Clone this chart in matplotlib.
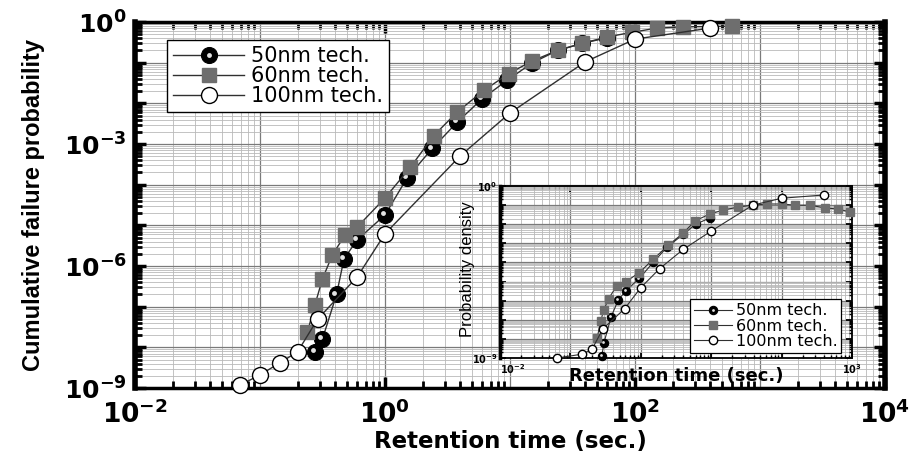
import numpy as np
import matplotlib
matplotlib.use("Agg")
import matplotlib.pyplot as plt
from matplotlib.ticker import LogLocator, FuncFormatter, NullFormatter
from matplotlib.transforms import offset_copy

plt.rcParams['font.family'] = ['DejaVu Sans']
plt.rcParams['mathtext.fontset'] = 'dejavusans'
plt.rcParams['mathtext.default'] = 'bf'

# ---- cumulative failure probability (main panel) ----
t50 = [0.275, 0.316, 0.41, 0.47, 0.60, 1.0, 1.5, 2.4, 3.8, 6.0, 9.5, 15, 24, 38, 60]
p50 = [7.8e-9, 1.6e-8, 2.0e-7, 1.5e-6, 4.4e-6, 1.8e-5, 1.45e-4, 7.9e-4, 3.5e-3,
       1.3e-2, 3.7e-2, 9.8e-2, 0.20, 0.30, 0.41]

t60 = [0.24, 0.275, 0.316, 0.38, 0.48, 0.60, 1.0, 1.6, 2.45, 3.8, 6.2, 9.8, 15, 24,
       38, 60, 95, 150, 240, 600]
p60 = [2.4e-8, 1.1e-7, 4.8e-7, 1.9e-6, 5.8e-6, 9.1e-6, 4.7e-5, 2.7e-4, 1.6e-3,
       6.2e-3, 2.1e-2, 5.4e-2, 0.11, 0.20, 0.30, 0.43, 0.56, 0.71, 0.76, 0.79]

t100 = [0.069, 0.10, 0.145, 0.20, 0.29, 0.60, 1.0, 4.0, 10, 40, 100, 400]
p100 = [1.17e-9, 2.1e-9, 4.2e-9, 7.8e-9, 5.0e-8, 5.4e-7, 6.2e-6, 5.1e-4, 5.8e-3,
        0.105, 0.38, 0.71]

# ---- probability density (inset) ----
d_t50 = [0.28, 0.30, 0.38, 0.48, 0.62, 0.95, 1.5, 2.35, 4.0, 6.0, 9.5]
d_p50 = [1.3e-9, 6.2e-9, 1.45e-7, 1.1e-6, 3.4e-6, 1.45e-5, 1.0e-4, 6.2e-4, 2.95e-3,
         1.0e-2, 2.1e-2]

d_t60 = [0.24, 0.27, 0.30, 0.35, 0.46, 0.62, 0.95, 1.5, 2.45, 4.0, 5.9, 9.5, 14.8,
         24, 39, 62, 100, 155, 250, 420, 630, 930]
d_p60 = [1.1e-8, 8.9e-8, 3.4e-7, 1.3e-6, 6.2e-6, 1.0e-5, 2.95e-5, 1.45e-4, 7.9e-4,
         3.4e-3, 1.5e-2, 3.4e-2, 5.5e-2, 7.9e-2, 0.10, 0.115, 0.115, 0.10, 0.10,
         0.071, 0.063, 0.044]

d_t100 = [0.065, 0.148, 0.204, 0.29, 0.59, 1.0, 1.86, 4.0, 10, 39, 100, 400]
d_p100 = [1.0e-9, 1.6e-9, 2.95e-9, 3.4e-8, 3.8e-7, 4.8e-6, 4.8e-5, 4.8e-4, 4.4e-3,
          0.10, 0.23, 0.34]

labels = ['50nm tech.', '60nm tech.', '100nm tech.']
main_xticks = [1e-2, 1e0, 1e2, 1e4]
main_xticklabels = [r'$10^{-2}$', r'$10^{0}$', r'$10^{2}$', r'$10^{4}$']
main_yticks = [1e-9, 1e-8, 1e-7, 1e-6, 1e-5, 1e-4, 1e-3, 1e-2, 1e-1, 1e0]
main_yticklabels = [r'$10^{-9}$', '', '', r'$10^{-6}$', '', '', r'$10^{-3}$', '', '',
                    r'$10^{0}$']
ins_xticks = [1e-2, 1e-1, 1e0, 1e1, 1e2, 1e3]
ins_xticklabels = [r'$10^{-2}$', '', '', '', '', r'$10^{3}$']
ins_yticks = [1e-9, 1e-8, 1e-7, 1e-6, 1e-5, 1e-4, 1e-3, 1e-2, 1e-1, 1e0]
ins_yticklabels = [r'$10^{-9}$', '', '', '', '', '', '', '', '', r'$10^{0}$']

LINE = '#303030'
SQUARE = '#6e6e6e'

fig = plt.figure(figsize=(9.15, 4.58), dpi=100)
ax = fig.add_axes([0.1475, 0.1528, 0.8197, 0.7991])


def style_log_axes(a, spine_w, major_len, minor_len, tick_w):
    a.set_xscale('log')
    a.set_yscale('log')
    a.xaxis.set_minor_locator(LogLocator(base=10, subs=np.arange(2, 10), numticks=30))
    a.yaxis.set_minor_locator(LogLocator(base=10, subs=np.arange(2, 10), numticks=30))
    a.xaxis.set_minor_formatter(NullFormatter())
    a.yaxis.set_minor_formatter(NullFormatter())
    a.grid(True, which='major', color='#7a7a7a', lw=0.9)
    a.grid(True, which='minor', color='#b9b9b9', lw=0.6)
    a.set_axisbelow(True)
    for s in a.spines.values():
        s.set_linewidth(spine_w)
        s.set_color('black')
    a.tick_params(which='both', direction='in', top=True, right=True, colors='black')
    a.tick_params(which='major', length=major_len, width=tick_w)
    a.tick_params(which='minor', length=minor_len, width=tick_w * 0.8)


style_log_axes(ax, 2.5, 8, 5, 2.5)
ax.spines['left'].set_linewidth(4)
ax.spines['right'].set_linewidth(4)
ax.set_xlim(1e-2, 1e4)
ax.set_ylim(1e-9, 1e0)
ax.set_xticks(main_xticks, main_xticklabels)
ax.set_yticks(main_yticks, main_yticklabels)
ax.tick_params(axis='x', which='major', labelsize=19, pad=9)
ax.tick_params(axis='y', which='major', labelsize=18, pad=6)
# grid lines at the odd x decades, which carry no label
for e in range(-1, 4, 2):
    ax.axvline(10.0 ** e, color='#7a7a7a', lw=0.9, zorder=0.5)

ax.set_xlabel('Retention time (sec.)', fontsize=16.5, fontweight='bold')
ax.xaxis.set_label_coords(0.5, -0.115)
ax.set_ylabel('Cumulative failure probability', fontsize=17, fontweight='bold',
              family=['Liberation Sans', 'DejaVu Sans'])
ax.yaxis.set_label_coords(-0.12, 0.5)


def draw_series(a, t5, p5, t6, p6, t10, p10, ms_c, ms_s, lw, hl_ms, hl_dx, hl_dy):
    l50, = a.plot(t5, p5, '-o', color=LINE, lw=lw, ms=ms_c, mfc='black', mec='black',
                  mew=0.8, zorder=3, clip_on=False)
    hl_tr = offset_copy(a.transData, fig=a.figure, x=hl_dx, y=hl_dy, units='points')
    hl, = a.plot(t5, p5, 'o', ms=hl_ms, mfc='#e2e2e2', mec='none', zorder=3.1,
                 transform=hl_tr, clip_on=False)
    l60, = a.plot(t6, p6, '-s', color=LINE, lw=lw, ms=ms_s, mfc=SQUARE, mec=SQUARE,
                  zorder=4, clip_on=False)
    l100, = a.plot(t10, p10, '-o', color=LINE, lw=lw, ms=ms_c, mfc='white', mec='black',
                   mew=1.0, zorder=5, clip_on=False)
    return (l50, hl), l60, l100


h50, h60, h100 = draw_series(ax, t50, p50, t60, p60, t100, p100, 11.5, 10, 1.0,
                             3.5, -1.5, 1.2)
leg = ax.legend([h50, h60, h100], labels, loc='upper left', bbox_to_anchor=(0.043, 0.951),
                borderaxespad=0, fontsize=15, handlelength=3.4, handletextpad=0.3,
                labelspacing=0.0, borderpad=0.3, fancybox=False, framealpha=1,
                edgecolor='black')
leg.get_frame().set_linewidth(1.0)
leg.set_zorder(10)

# ---- inset ----
ins = fig.add_axes([0.5464, 0.2183, 0.3847, 0.3755])
ins.set_facecolor('white')
style_log_axes(ins, 1.3, 4, 2.5, 1.3)
ins.spines['left'].set_linewidth(2.5)
ins.set_xlim(1e-2, 1e3)
ins.set_ylim(1e-9, 1e0)
ins.set_xticks(ins_xticks, ins_xticklabels)
ins.set_yticks(ins_yticks, ins_yticklabels)
ins.tick_params(axis='both', which='major', labelsize=7, pad=2)
ins.tick_params(axis='x', which='major', pad=3)
ins.get_xticklabels()[0].set_ha('left')
ins.set_xlabel('Retention time (sec.)', fontsize=13, fontweight='bold')
ins.xaxis.set_label_coords(0.5, -0.05)
ins.set_ylabel('Probability density', fontsize=12, family=['Liberation Sans', 'DejaVu Sans'])
ins.yaxis.set_label_coords(-0.07, 0.517)

i50, i60, i100 = draw_series(ins, d_t50, d_p50, d_t60, d_p60, d_t100, d_p100,
                             6, 5.5, 0.8, 2.0, -0.6, 0.6)
ileg = ins.legend([i50, i60, i100], labels, loc='lower right', bbox_to_anchor=(0.97, 0.03),
                  borderaxespad=0, fontsize=11.5, handlelength=2.4, handletextpad=0.2,
                  labelspacing=0.02, borderpad=0.25, fancybox=False, framealpha=1,
                  edgecolor='black')
ileg.get_frame().set_linewidth(0.9)
ileg.set_zorder(10)

fig.savefig('out.png', dpi=100)
